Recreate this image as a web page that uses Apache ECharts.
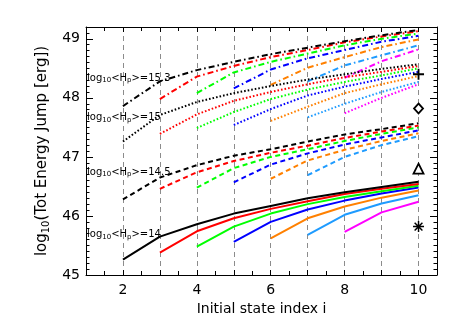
<!DOCTYPE html>
<html><head><meta charset="utf-8">
<script src="https://cdn.jsdelivr.net/npm/echarts@6/dist/echarts.min.js"></script>
<style>html,body{margin:0;padding:0;background:#fff}#c{width:463px;height:331px}</style>
</head><body><div id="c"></div>
<script>
// ---- data ----
const startIndex = [2, 3, 4, 5, 6, 7, 8];
const lineColors = ['#000000', '#ff0000', '#00ff00', '#0000ff', '#ff8000', '#1e9bff', '#ff00ff'];
// log10<Hp>=14 (solid)
const hp14 = [
  [45.26, 45.65, 45.86, 46.04, 46.17, 46.30, 46.40, 46.49, 46.58],
  [45.38, 45.74, 45.96, 46.12, 46.25, 46.37, 46.46, 46.54],
  [45.48, 45.82, 46.04, 46.20, 46.32, 46.42, 46.51],
  [45.56, 45.90, 46.11, 46.26, 46.38, 46.48],
  [45.62, 45.96, 46.16, 46.31, 46.43],
  [45.68, 46.02, 46.21, 46.35],
  [45.73, 46.06, 46.24]
];
// log10<Hp>=14.5 (dashed)
const hp145 = [
  [46.28, 46.65, 46.86, 47.02, 47.13, 47.26, 47.38, 47.47, 47.57],
  [46.46, 46.74, 46.93, 47.07, 47.19, 47.32, 47.43, 47.53],
  [46.48, 46.81, 47.00, 47.13, 47.27, 47.39, 47.50],
  [46.57, 46.87, 47.06, 47.21, 47.33, 47.45],
  [46.63, 46.94, 47.12, 47.27, 47.40],
  [46.69, 47.00, 47.20, 47.35]
];
// log10<Hp>=15 (dotted)
const hp15 = [
  [47.26, 47.71, 47.93, 48.08, 48.20, 48.31, 48.40, 48.49, 48.57],
  [47.39, 47.72, 47.95, 48.10, 48.23, 48.35, 48.44, 48.54],
  [47.49, 47.76, 47.98, 48.14, 48.27, 48.38, 48.50],
  [47.54, 47.81, 48.04, 48.19, 48.32, 48.44],
  [47.61, 47.85, 48.08, 48.23, 48.37],
  [47.67, 47.90, 48.10, 48.27],
  [47.74, 48.00, 48.23]
];
// log10<Hp>=15.3 (dash-dot)
const hp153 = [
  [47.86, 48.28, 48.47, 48.61, 48.74, 48.85, 48.96, 49.06, 49.15],
  [47.98, 48.36, 48.54, 48.69, 48.81, 48.94, 49.04, 49.13],
  [48.08, 48.43, 48.61, 48.75, 48.89, 49.00, 49.09],
  [48.16, 48.48, 48.67, 48.81, 48.95, 49.05],
  [48.22, 48.51, 48.69, 48.86, 48.99],
  [48.28, 48.55, 48.72, 48.89],
  [48.34, 48.62, 48.82]
];
const markerX = [10, 10, 10, 10];
const markerY = [48.40, 47.82, 46.80, 45.82];
const groupNames = ['15.3', '15', '14.5', '14'];
const xTickLabels = [2, 4, 6, 8, 10];
const yTickLabels = [45, 46, 47, 48, 49];

// ---- chart ----
const FONT = 'DejaVu Sans';
const chart = echarts.init(document.getElementById('c'), null, {renderer: 'canvas'});

function groupSeries(group, dash) {
  return group.map((vals, k) => ({
    type: 'line',
    symbol: 'none',
    silent: true,
    animation: false,
    z: 10 - k,
    lineStyle: {color: lineColors[k], width: 2, type: dash, cap: 'butt'},
    data: vals.map((v, j) => [startIndex[k] + j, v])
  }));
}

const plusPath = 'path://M-1,-6L-1,6L1,6L1,-6Z M-6,-1L-6,1L6,1L6,-1Z';
const starPath = 'path://M-0.8,-6L-0.8,6L0.8,6L0.8,-6Z M-6,-0.8L-6,0.8L6,0.8L6,-0.8Z ' +
  'M3.68,4.81L4.81,3.68L-3.68,-4.81L-4.81,-3.68Z M-4.81,3.68L-3.68,4.81L4.81,-3.68L3.68,-4.81Z';
const markerSymbols = [plusPath, 'diamond', 'triangle', starPath];
const markerSizes = [11, [9, 10], 10, 11];
const markerFill = ['#000', '#fff', '#fff', '#000'];

const markerSeries = markerX.map((x, i) => ({
  type: 'scatter',
  animation: false,
  z: 20,
  symbol: markerSymbols[i],
  symbolSize: markerSizes[i],
  itemStyle: {color: markerFill[i], borderColor: '#000', borderWidth: (i === 1 || i === 2) ? 1.8 : 0, opacity: 1},
  data: [[x, markerY[i]]]
}));

const tickStyle = {color: '#000', width: 1};
const xBase = {
  type: 'value', min: 1, max: 10.5, interval: 1,
  axisLine: {show: true, onZero: false, lineStyle: {color: '#000', width: 1}},
  axisTick: {show: true, inside: true, length: 5, lineStyle: tickStyle},
  minorTick: {show: true, splitNumber: 2, length: 4, lineStyle: tickStyle}
};
const yBase = {
  type: 'value', min: 45, max: 49.2, interval: 1,
  axisLine: {show: true, onZero: false, lineStyle: {color: '#000', width: 1}},
  axisTick: {show: true, inside: true, length: 7, lineStyle: tickStyle},
  minorTick: {show: true, splitNumber: 10, length: 3.5, lineStyle: tickStyle},
  splitLine: {show: false}
};

const labelRich = {
  a: {fontSize: 10, fontFamily: FONT, lineHeight: 12, fill: '#000', color: '#000'},
  s: {fontSize: 7, fontFamily: FONT, lineHeight: 7, verticalAlign: 'bottom', fill: '#000', color: '#000'}
};
const labelY = [78, 117.5, 172, 234.7];

const option = {
  backgroundColor: '#fff',
  animation: false,
  grid: {left: 86, right: 26, top: 27, bottom: 56},
  xAxis: [
    Object.assign({}, xBase, {
      position: 'bottom',
      axisLabel: {formatter: v => xTickLabels.includes(v) ? String(v) : '', fontSize: 14, fontFamily: FONT, color: '#000', margin: 8},
      splitLine: {show: true, lineStyle: {color: '#8c8c8c', type: [5, 4], width: 1}},
      name: 'Initial state index i', nameLocation: 'middle', nameGap: 26,
      nameTextStyle: {fontSize: 14, fontFamily: FONT, color: '#000'}
    }),
    Object.assign({}, xBase, {position: 'top', axisLabel: {show: false}, splitLine: {show: false}})
  ],
  yAxis: [
    Object.assign({}, yBase, {
      position: 'left',
      axisLabel: {formatter: v => yTickLabels.includes(v) ? String(v) : '', fontSize: 14, fontFamily: FONT, color: '#000', margin: 6},
      name: '{a|log}{s|10}{a|(Tot Energy Jump [erg])}', nameLocation: 'middle', nameGap: 29, nameRotate: 90,
      nameTextStyle: {
        rich: {
          a: {fontSize: 15, fontFamily: FONT, color: '#000', lineHeight: 18},
          s: {fontSize: 10, fontFamily: FONT, color: '#000', lineHeight: 10, verticalAlign: 'bottom'}
        }
      }
    }),
    Object.assign({}, yBase, {position: 'right', axisLabel: {show: false}})
  ],
  graphic: groupNames.map((g, i) => ({
    type: 'text', x: 87, y: labelY[i], z: 30,
    style: {
      text: '{a|log}{s|10}{a|<H}{s|p}{a|>=' + g + '}',
      rich: labelRich, fill: '#000', align: 'left', verticalAlign: 'middle'
    }
  })),
  series: [].concat(
    groupSeries(hp14, 'solid'),
    groupSeries(hp145, [5, 3.5]),
    groupSeries(hp15, [1.6, 2]),
    groupSeries(hp153, [6, 3, 1.6, 3]),
    markerSeries
  )
};
chart.setOption(option);
</script>
</body></html>
